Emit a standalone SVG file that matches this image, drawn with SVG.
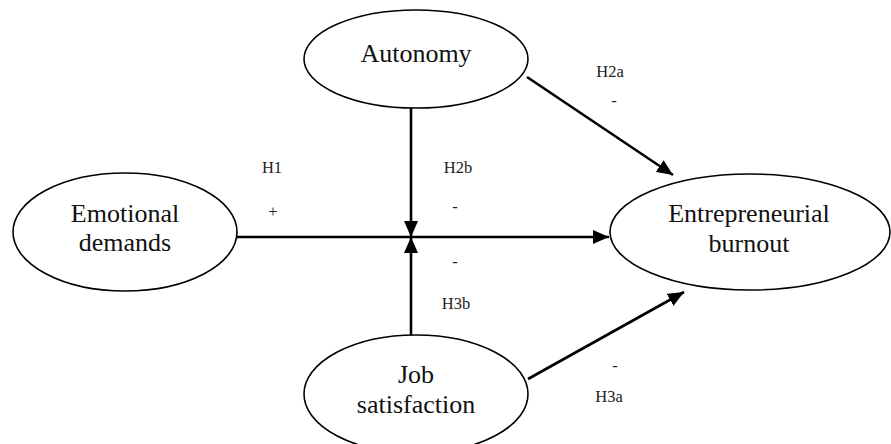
<svg xmlns="http://www.w3.org/2000/svg" width="891" height="444" viewBox="0 0 891 444">
<defs>
<style>
.node ellipse{fill:#fff;stroke:#000;stroke-width:1.6}
.node text{font-family:"Liberation Serif","Times New Roman",serif;font-size:26px;fill:#111;text-anchor:middle}
.lbl{font-family:"Liberation Serif","Times New Roman",serif;font-size:16.5px;fill:#222;text-anchor:middle}
.conn line{stroke:#000;stroke-width:2.6;marker-end:url(#ah)}
</style>
<marker id="ah" markerUnits="userSpaceOnUse" markerWidth="18" markerHeight="14" refX="16" refY="7" orient="auto">
<path d="M0,0 L16,7 L0,14 Z" fill="#000"/>
</marker>
</defs>
<rect width="891" height="444" fill="#fff"/>
<g id="autonomy" class="node">
<ellipse cx="416" cy="59" rx="112" ry="49"/>
<text x="416" y="62">Autonomy</text>
</g>
<g id="emotional-demands" class="node">
<ellipse cx="125" cy="232" rx="112" ry="59"/>
<text x="125" y="222">Emotional</text>
<text x="125" y="251">demands</text>
</g>
<g id="entrepreneurial-burnout" class="node">
<ellipse cx="750" cy="232" rx="140" ry="58"/>
<text x="749" y="222">Entrepreneurial</text>
<text x="749" y="252">burnout</text>
</g>
<g id="job-satisfaction" class="node">
<ellipse cx="416" cy="394" rx="112" ry="59"/>
<text x="416" y="383">Job</text>
<text x="416" y="413">satisfaction</text>
</g>
<g id="connectors" class="conn">
<line x1="237" y1="237" x2="609" y2="237"/>
<line x1="411" y1="108" x2="411" y2="237"/>
<line x1="411" y1="335" x2="411" y2="237"/>
<line x1="527" y1="77" x2="673" y2="175"/>
<line x1="528" y1="379" x2="684" y2="292"/>
</g>
<g id="labels">
<text class="lbl" x="272" y="173">H1</text>
<text class="lbl" x="273" y="217">+</text>
<text class="lbl" x="458" y="173">H2b</text>
<text class="lbl" x="455" y="212">-</text>
<text class="lbl" x="455" y="267">-</text>
<text class="lbl" x="456" y="309">H3b</text>
<text class="lbl" x="610" y="77">H2a</text>
<text class="lbl" x="614" y="106">-</text>
<text class="lbl" x="615" y="371">-</text>
<text class="lbl" x="609" y="402">H3a</text>
</g>
</svg>
